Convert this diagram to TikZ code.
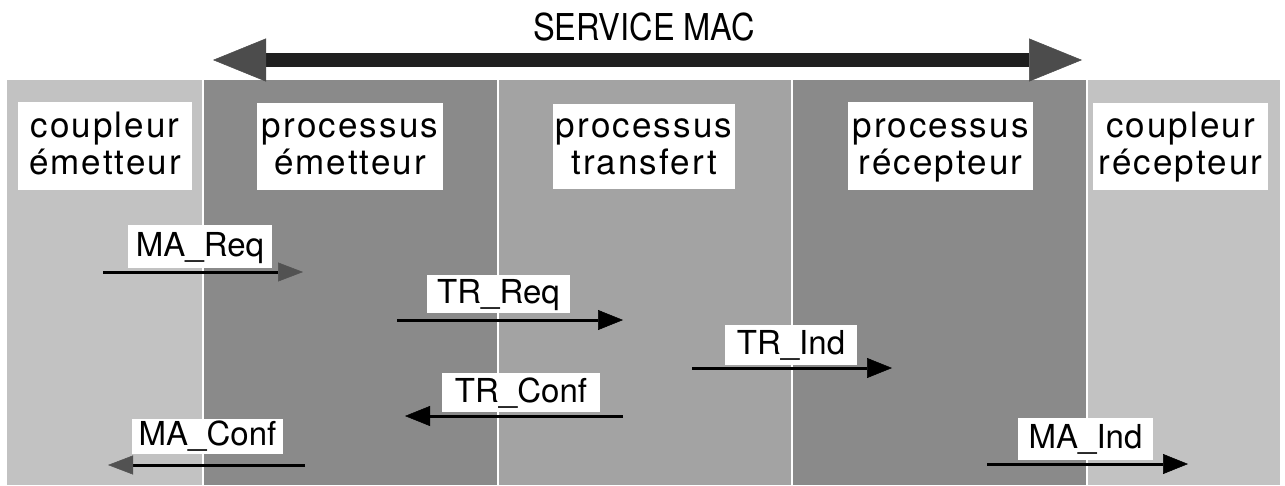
\documentclass[tikz,border=0pt]{standalone}
\usepackage{fontspec}
\usepackage{graphicx}
\setmainfont{TeX Gyre Heros}
\newfontfamily\spacedfont[LetterSpace=6]{TeX Gyre Heros}
\usetikzlibrary{arrows.meta}

\definecolor{lightzone}{gray}{0.76}
\definecolor{midzone}{gray}{0.64}
\definecolor{darkzone}{gray}{0.54}

% fixed line height for the two-line column titles
\newcommand\titlestrut{\rule[-9pt]{0pt}{37pt}}

\tikzset{
  colbox/.style={fill=white, inner sep=0pt, align=center,
    font=\spacedfont\fontsize{35}{37}\selectfont},
  sigbox/.style={fill=white, inner sep=0pt, text height=24pt, text depth=5pt,
    font=\fontsize{33}{38}\selectfont},
  sig/.style={line width=3pt, draw=black,
    -{Triangle[length=25pt,width=20pt,line width=0.5pt]}},
  siggray/.style={line width=3pt, draw=black,
    -{Triangle[length=25pt,width=19pt,line width=0.5pt,color=black!68]}},
  bigtip/.tip={Triangle[length=53pt,width=43pt,line width=0.5pt,color=black!70]}
}

\begin{document}
\begin{tikzpicture}[x=1pt,y=-1pt]
  % page frame
  \fill[white] (0,0) rectangle (1285,485);
  \useasboundingbox (0,0) rectangle (1285,485);

  % the five columns
  \fill[lightzone] (7,80)    rectangle (202,485);
  \fill[darkzone]  (204,80)  rectangle (497,485);
  \fill[midzone]   (499,80)  rectangle (791,485);
  \fill[darkzone]  (793,80)  rectangle (1086,485);
  \fill[lightzone] (1088,80) rectangle (1280,485);

  % MAC service span
  \node[font=\fontsize{37}{40}\selectfont] (svc) at (644,27)
    {\scalebox{0.88}[1]{SERVICE MAC}};
  \coordinate (svcL) at (213,60);
  \coordinate (svcR) at (1082,60);
  \draw[line width=14pt, black!88, {bigtip}-{bigtip}] (svcL) -- (svcR);

  % column titles
  \node[colbox, minimum width=174pt, minimum height=88pt] (ce) at (105,146)
    {\titlestrut coupleur\\\titlestrut émetteur};
  \node[colbox, minimum width=186pt, minimum height=87pt] (pe) at (350,146.5)
    {\titlestrut processus\\\titlestrut émetteur};
  \node[colbox, minimum width=182pt, minimum height=85pt] (pt) at (644,146.5)
    {\titlestrut processus\\\titlestrut transfert};
  \node[colbox, minimum width=185pt, minimum height=88pt] (pr) at (940.5,146)
    {\titlestrut processus\\\titlestrut récepteur};
  \node[colbox, minimum width=175pt, minimum height=87pt] (cr) at (1180.5,146.5)
    {\titlestrut coupleur\\\titlestrut récepteur};

  % primitive end points
  \coordinate (mareqA)  at (103,272);  \coordinate (mareqB)  at (303,272);
  \coordinate (trreqA)  at (397,320);  \coordinate (trreqB)  at (623,320);
  \coordinate (trindA)  at (692,368);  \coordinate (trindB)  at (892,368);
  \coordinate (trconfA) at (623,416);  \coordinate (trconfB) at (405,416);
  \coordinate (maconfA) at (305,465);  \coordinate (maconfB) at (108,465);
  \coordinate (maindA)  at (987,464);  \coordinate (maindB)  at (1188,464);

  % primitives
  \draw[siggray] (mareqA) -- (mareqB);
  \draw[sig]     (trreqA) -- (trreqB);
  \draw[sig]     (trindA) -- (trindB);
  \draw[sig]     (trconfA) -- (trconfB);
  \draw[siggray] (maconfA) -- (maconfB);
  \draw[sig]     (maindA) -- (maindB);

  % primitive names
  \node[sigbox, minimum width=144pt, minimum height=43pt] (lmareq)  at (200,246.5)   {MA\_Req};
  \node[sigbox, minimum width=143pt, minimum height=38pt] (ltrreq)  at (498.5,294)   {TR\_Req};
  \node[sigbox, minimum width=132pt, minimum height=40pt] (ltrind)  at (791,345)     {TR\_Ind};
  \node[sigbox, minimum width=158pt, minimum height=39pt] (ltrconf) at (521,392.5)   {TR\_Conf};
  \node[sigbox, minimum width=151pt, minimum height=35pt] (lmaconf) at (207.5,436)   {MA\_Conf};
  \node[sigbox, minimum width=135pt, minimum height=42pt] (lmaind)  at (1085.5,439)  {MA\_Ind};
\end{tikzpicture}
\end{document}
